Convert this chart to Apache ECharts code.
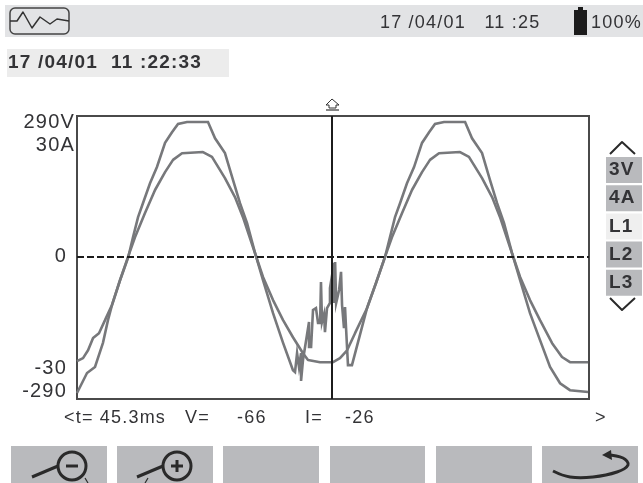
<!DOCTYPE html>
<html>
<head>
<meta charset="utf-8">
<style>html,body{margin:0;padding:0;background:#fff}#c{width:643px;height:483px}</style>
<script src="https://cdn.jsdelivr.net/npm/echarts@6/dist/echarts.min.js"></script>
</head>
<body>
<div id="c"></div>
<script>
// The instrument's LCD font is widely spaced: apply it to every canvas context.
const origGetContext = HTMLCanvasElement.prototype.getContext;
HTMLCanvasElement.prototype.getContext = function(){
  const ctx = origGetContext.apply(this, arguments);
  if (ctx && 'letterSpacing' in ctx) ctx.letterSpacing = '1.2px';
  return ctx;
};

// Values
const voltageT = [25.50,26.28,26.90,27.52,27.91,28.22,28.85,29.47,29.86,30.25,30.63,31.18,31.72,32.35,32.89,33.36,34.06,35.69,36.24,37.01,37.64,38.18,38.73,39.35,39.97,40.75,41.53,42.30,42.46,42.62,42.77,42.77,42.93,42.93,43.08,43.08,43.39,43.55,43.55,43.71,43.86,44.09,44.25,44.41,44.48,44.56,44.56,44.72,44.79,44.87,44.95,45.18,45.18,45.26,45.50,45.50,45.58,45.58,45.66,45.66,45.81,45.89,46.04,46.12,46.12,46.19,46.27,46.27,46.35,46.35,46.43,46.43,46.58,46.89,48.06,48.76,49.46,49.85,50.24,50.63,51.17,51.72,52.34,52.89,53.35,54.05,55.69,56.23,57.01,57.63,58.18,58.72,59.34,59.97,60.74,61.52,62.30,63.08,63.85,65.26];
const voltageV = [-294,-251,-238,-186,-137,-105,-51,-3,42,85,115,158,193,245,268,286,290,290,255,223,165,115,72,8,-51,-122,-186,-245,-249,-208,-208,-238,-208,-268,-268,-223,-169,-141,-195,-195,-115,-111,-143,-143,-55,-55,-141,-124,-163,-163,-111,-100,-68,-68,-14,-100,-100,-12,-12,-100,-100,-72,-33,-33,-105,-105,-109,-154,-154,-109,-109,-154,-234,-234,-111,-57,-1,42,85,115,158,193,245,268,286,290,290,255,223,165,115,72,8,-51,-122,-180,-238,-273,-288,-292];
const currentT = [25.50,25.97,26.36,26.75,27.21,27.68,28.22,28.85,29.47,30.01,30.79,31.57,32.35,32.97,33.67,35.30,36.00,37.01,37.79,38.41,39.35,39.97,40.75,41.53,42.30,43.08,43.47,44.41,45.42,45.96,46.51,47.13,48.06,48.76,49.46,50.00,50.79,51.56,52.34,52.96,53.66,55.30,55.99,57.01,57.79,58.41,59.34,59.97,60.74,61.52,62.46,63.23,63.85,65.26];
const currentA = [-28.1,-27.3,-25.2,-21.9,-20.6,-17.1,-13.0,-6.3,-0.1,5.2,11.7,17.9,22.7,26.0,27.8,28.1,26.8,21.1,16.0,10.6,0.9,-5.5,-11.7,-17.1,-21.7,-26.0,-27.8,-28.4,-28.4,-27.3,-25.2,-20.6,-13.9,-7.1,-0.1,5.2,11.7,17.9,22.7,26.0,27.8,28.1,26.8,21.1,16.0,10.6,0.9,-5.5,-11.7,-17.1,-23.3,-27.0,-28.4,-28.4];
const voltageTicks = [290,-290];
const currentTicks = [30,0,-30];
const cursorT = 45.34;
const headerDate = '17 /04/01   11 :25';
const batteryText = '100%';
const recordDate = '17 /04/01  11 :22:33';
const channelLabels = ['3V','4A','L1','L2','L3'];
const readouts = ['<t= 45.3ms','V=','-66','I=','-26','>'];

const FONT = '"Liberation Sans"';
const INK = '#333336';
const BTN = '#b9babd';
const rect = (x,y,w,h,fill,z=1,r=0)=>({type:'rect',silent:true,z,shape:{x,y,width:w,height:h,r},style:{fill}});
const text = (x,y,t,size,weight='normal',align='left')=>({type:'text',silent:true,z:5,x,y,style:{text:t,fill:INK,font:`${weight} ${size}px ${FONT}`,textAlign:align,textVerticalAlign:'middle'}});
const poly = (pts,w=2,col='#2a2a2a',smooth=0)=>({type:'polyline',silent:true,z:6,shape:{points:pts,smooth},style:{stroke:col,lineWidth:w,fill:null,lineJoin:'round'}});
const ring = (cx,cy,r,w=3)=>({type:'circle',silent:true,z:6,shape:{cx,cy,r},style:{stroke:'#2a2a2a',lineWidth:w,fill:null}});

const graphics = [
  rect(5,5,638,32,'#e2e3e5'),
  {type:'rect',silent:true,z:6,shape:{x:10,y:8,width:59,height:26,r:5},style:{stroke:'#444',lineWidth:1.5,fill:null}},
  poly([[10,21],[17,21],[23,12],[32,28],[40,17],[50,24],[57,19],[69,21]],1.5,'#333'),
  text(380,23,headerDate,18),
  rect(574,10,13,25,'#1c1c1c',6), rect(578,7,5,4,'#1c1c1c',6),
  text(591,23,batteryText,18),
  rect(7,49,222,28,'#ececec'),
  text(8,63,recordDate,19,'bold'),
  poly([[326,105],[332,99],[339,105],[336,105],[336,108],[329,108],[329,105],[326,105]],1,'#333'),
  poly([[326,110],[339,110]],1.2,'#333'),
  poly([[610,154],[622,142],[635,154]]),
  poly([[610,298],[622,310],[635,298]])
];
channelLabels.forEach((l,i)=>{
  const y = 157+i*28.2;
  graphics.push(rect(606,y,36,26,i===2?'#efefef':BTN));
  graphics.push(text(609,y+13,l,19,'bold'));
});
[[64,0],[185,1],[237,2],[305,3],[345,4],[595,5]].forEach(([x,i])=>graphics.push(text(x,418,readouts[i],18)));
[[11,96],[117,96],[223,96],[330,95],[436,96],[542,96]].forEach(([x,w])=>graphics.push(rect(x,446,w,37,BTN)));
graphics.push(
  ring(72,466,14), poly([[58,466],[32,477]],3), poly([[66,466],[78,466]],3), poly([[85,478],[88,483]],1.2),
  ring(177,466,14), poly([[163,466],[137,477]],3), poly([[171,466],[183,466]],3), poly([[177,460],[177,472]],3), poly([[148,478],[145,483]],1.2),
  poly([[553,471],[570,477],[593,477],[617,472],[628,465],[623,458],[607,455]],3,'#2a2a2a',0.4),
  {type:'polygon',silent:true,z:6,shape:{points:[[602,455],[611,450],[612,460]]},style:{fill:'#2a2a2a'}}
);

const zip = (a,b)=>a.map((v,i)=>[v,b[i]]);
const yLabel = (suffixMap)=>({
  show:true, margin:2, color:INK, fontFamily:FONT, fontSize:20,
  formatter:v=>suffixMap(v),
  rich:{a:{fontFamily:FONT,fontSize:20,color:INK,lineHeight:20},
        b:{fontFamily:FONT,fontSize:20,color:INK,lineHeight:20,padding:[0,8,0,0]}}
});
const option = {
  animation:false,
  backgroundColor:'#fff',
  graphic:graphics,
  grid:{left:77,top:116,width:512,height:283,show:true,borderColor:'#4a4a4a',borderWidth:2,backgroundColor:'transparent',containLabel:false},
  xAxis:{type:'value',min:25.5,max:65.33,axisLine:{show:false},axisTick:{show:false},axisLabel:{show:false},splitLine:{show:false}},
  yAxis:[
    {type:'value',min:-307,max:303,position:'left',axisLine:{show:false},axisTick:{show:false},splitLine:{show:false},
      axisLabel:Object.assign(yLabel(v=>v>0?`{a|${v}V}`:`{b|${v}}`),{customValues:voltageTicks})},
    {type:'value',min:-38.3,max:37.8,position:'left',axisLine:{show:false},axisTick:{show:false},splitLine:{show:false},
      axisLabel:Object.assign(yLabel(v=>v>0?`{a|${v}A}`:`{b|${v}}`),{customValues:currentTicks})}
  ],
  series:[
    {type:'line',name:'V',yAxisIndex:0,data:zip(voltageT,voltageV),showSymbol:false,silent:true,lineStyle:{color:'#77787b',width:2.6,join:'miter'},z:2},
    {type:'line',name:'I',yAxisIndex:1,data:zip(currentT,currentA),showSymbol:false,silent:true,lineStyle:{color:'#77787b',width:2.6},z:2,
      markLine:{silent:true,symbol:'none',animation:false,label:{show:false},
        data:[
          {yAxis:0,lineStyle:{color:'#1c1c1c',width:2,type:[7,3]}},
          {xAxis:cursorT,lineStyle:{color:'#1c1c1c',width:2,type:'solid'}}
        ]}}
  ]
};
echarts.init(document.getElementById('c'),null,{renderer:'canvas'}).setOption(option);
</script>
</body>
</html>
